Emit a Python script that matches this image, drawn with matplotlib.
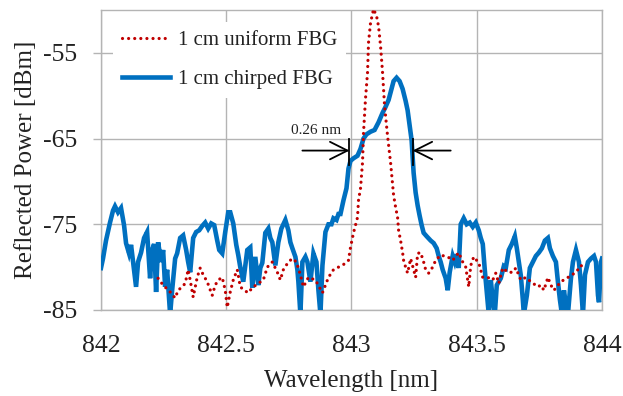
import numpy as np
import matplotlib
matplotlib.use("Agg")
import matplotlib.pyplot as plt

plt.rcParams["font.family"] = ["Liberation Serif", "DejaVu Serif"]
plt.rcParams["axes.unicode_minus"] = False

# 1 cm chirped FBG (blue, solid)
chirped_wl = [
    842.000, 842.008, 842.020, 842.036, 842.048, 842.056, 842.068, 842.080, 842.092, 842.100,
    842.112, 842.120, 842.128, 842.140, 842.148, 842.160, 842.172, 842.184, 842.192, 842.196,
    842.204, 842.212, 842.220, 842.228, 842.240, 842.248, 842.256, 842.264, 842.276, 842.284,
    842.296, 842.304, 842.316, 842.328, 842.340, 842.348, 842.356, 842.368, 842.380, 842.392,
    842.404, 842.416, 842.428, 842.440, 842.452, 842.464, 842.472, 842.484, 842.496, 842.508,
    842.516, 842.528, 842.540, 842.548, 842.556, 842.568, 842.576, 842.584, 842.596, 842.604,
    842.616, 842.628, 842.636, 842.644, 842.656, 842.668, 842.676, 842.684, 842.696, 842.708,
    842.720, 842.736, 842.748, 842.756, 842.764, 842.776, 842.784, 842.788, 842.796, 842.804,
    842.816, 842.824, 842.836, 842.848, 842.860, 842.868, 842.876, 842.884, 842.896, 842.908,
    842.920, 842.928, 842.940, 842.948, 842.956, 842.968, 842.980, 842.988, 842.996, 843.008,
    843.024, 843.036, 843.048, 843.060, 843.076, 843.092, 843.108, 843.124, 843.136, 843.148,
    843.160, 843.168, 843.180, 843.192, 843.204, 843.216, 843.224, 843.232, 843.240, 843.244,
    843.248, 843.256, 843.264, 843.272, 843.280, 843.288, 843.300, 843.316, 843.328, 843.340,
    843.348, 843.356, 843.364, 843.376, 843.384, 843.392, 843.404, 843.412, 843.420, 843.428,
    843.436, 843.448, 843.460, 843.472, 843.484, 843.496, 843.508, 843.516, 843.524, 843.532,
    843.540, 843.548, 843.556, 843.564, 843.572, 843.580, 843.596, 843.608, 843.616, 843.628,
    843.640, 843.652, 843.660, 843.668, 843.676, 843.684, 843.688, 843.700, 843.712, 843.724,
    843.736, 843.748, 843.760, 843.772, 843.784, 843.792, 843.804, 843.816, 843.824, 843.832,
    843.840, 843.848, 843.856, 843.864, 843.876, 843.884, 843.896, 843.908, 843.916, 843.924,
    843.932, 843.944, 843.956, 843.968, 843.976, 843.984, 843.988, 843.996, 844.000,
]
chirped_dbm = [
    -80.1, -79.0, -76.9, -74.8, -73.4, -72.9, -73.6, -73.1, -75.1, -77.2,
    -78.4, -77.4, -79.4, -82.3, -79.4, -78.3, -76.6, -75.9, -79.4, -81.3,
    -78.0, -77.3, -82.9, -77.1, -79.4, -78.0, -82.3, -80.3, -85.5, -82.7,
    -79.0, -78.4, -76.6, -76.3, -78.0, -79.4, -80.6, -76.6, -75.9, -75.7,
    -75.2, -74.8, -75.5, -74.9, -75.1, -76.9, -78.0, -78.4, -75.9, -73.6,
    -73.6, -74.9, -77.4, -78.6, -80.0, -81.7, -79.8, -78.0, -77.7, -82.4,
    -78.8, -82.1, -80.1, -79.5, -76.0, -75.5, -76.6, -77.1, -79.8, -77.1,
    -75.5, -74.5, -75.7, -77.1, -77.8, -78.8, -80.3, -81.7, -85.5, -79.4,
    -78.8, -79.4, -81.7, -78.4, -79.4, -82.7, -85.5, -79.8, -75.9, -75.0,
    -75.0, -74.3, -74.5, -73.8, -73.8, -72.2, -70.8, -68.5, -67.6, -67.3,
    -67.0, -66.2, -65.0, -64.5, -64.2, -64.0, -63.1, -62.0, -61.3, -60.5,
    -59.2, -58.3, -57.9, -58.3, -59.2, -60.6, -61.7, -63.5, -65.2, -67.0,
    -69.0, -71.3, -72.8, -74.0, -75.1, -76.0, -76.4, -76.9, -77.2, -77.8,
    -78.7, -79.4, -80.3, -81.3, -82.7, -80.6, -78.7, -79.4, -78.5, -80.1,
    -75.0, -74.3, -75.0, -74.8, -75.3, -74.8, -75.7, -76.6, -77.3, -80.3,
    -82.9, -85.5, -81.5, -83.8, -85.5, -82.1, -81.3, -79.9, -80.1, -78.0,
    -77.3, -76.4, -77.8, -79.4, -81.0, -83.8, -85.5, -83.3, -80.1, -79.4,
    -78.7, -78.3, -77.8, -76.9, -76.6, -77.8, -78.7, -79.4, -81.7, -83.8,
    -85.5, -82.7, -84.4, -85.5, -81.3, -79.4, -78.0, -79.4, -82.1, -85.5,
    -80.9, -79.4, -79.0, -78.7, -79.4, -83.3, -84.1, -79.4, -79.0,
]

# 1 cm uniform FBG (red, dotted)
uniform_wl = [
    842.228, 842.248, 842.276, 842.296, 842.308, 842.324, 842.336, 842.348, 842.356, 842.368,
    842.384, 842.396, 842.408, 842.424, 842.444, 842.456, 842.468, 842.484, 842.496, 842.504,
    842.516, 842.528, 842.544, 842.556, 842.572, 842.588, 842.604, 842.628, 842.648, 842.664,
    842.684, 842.704, 842.716, 842.728, 842.748, 842.764, 842.780, 842.796, 842.808, 842.828,
    842.856, 842.884, 842.896, 842.908, 842.928, 842.948, 842.968, 842.988, 842.996, 843.008,
    843.024, 843.028, 843.036, 843.044, 843.048, 843.056, 843.064, 843.068, 843.076, 843.088,
    843.100, 843.108, 843.116, 843.124, 843.132, 843.144, 843.156, 843.168, 843.176, 843.184,
    843.188, 843.196, 843.204, 843.208, 843.216, 843.224, 843.236, 843.248, 843.256, 843.264,
    843.276, 843.288, 843.296, 843.308, 843.324, 843.336, 843.356, 843.384, 843.404, 843.428,
    843.444, 843.456, 843.468, 843.476, 843.488, 843.508, 843.524, 843.544, 843.564, 843.576,
    843.588, 843.604, 843.624, 843.644, 843.656, 843.676, 843.696, 843.716, 843.744, 843.756,
    843.768, 843.784, 843.796, 843.808, 843.836, 843.864, 843.896, 843.916, 843.936,
]
uniform_dbm = [
    -81.3, -82.1, -82.9, -83.6, -82.7, -82.3, -81.9, -80.3, -81.5, -83.5,
    -81.2, -80.1, -80.9, -81.7, -83.3, -82.1, -81.5, -81.2, -82.7, -84.7,
    -82.9, -81.5, -80.3, -82.3, -82.7, -83.0, -82.4, -81.9, -81.5, -80.0,
    -79.4, -80.6, -81.5, -80.3, -79.4, -79.0, -79.4, -80.9, -82.3, -81.2,
    -81.5, -83.0, -82.1, -81.2, -80.3, -80.0, -79.7, -79.2, -77.7, -76.0,
    -74.2, -72.2, -70.8, -67.8, -64.3, -60.3, -57.3, -53.8, -51.5, -49.9,
    -50.7, -51.9, -54.2, -57.3, -61.2, -64.7, -67.8, -71.6, -73.0, -74.2,
    -75.7, -76.9, -78.3, -79.2, -80.0, -80.7, -79.0, -80.3, -81.2, -78.4,
    -78.3, -79.4, -80.3, -80.7, -80.0, -79.2, -78.6, -78.8, -79.2, -78.3,
    -79.4, -80.0, -82.3, -79.8, -78.8, -79.5, -81.2, -81.2, -81.5, -80.7,
    -81.9, -80.1, -80.6, -80.6, -80.1, -81.5, -81.2, -81.7, -82.3, -82.1,
    -82.7, -81.2, -82.1, -82.7, -81.7, -81.2, -80.6, -79.8, -80.3,
]

x_ticks = [842, 842.5, 843, 843.5, 844]
x_labels = ["842", "842.5", "843", "843.5", "844"]
y_ticks = [-85, -75, -65, -55]

# bandwidth marker
fwhm_left, fwhm_right = 842.992, 843.244
fwhm_y = -66.4
fwhm_text = "0.26 nm"

blue = "#0070C0"
red = "#C00000"
grid_c = "#B4B4B4"

fig = plt.figure(figsize=(6.23, 3.96), dpi=100)
ax = fig.add_axes([0.1621, 0.2172, 0.8042, 0.7575])

ax.plot(chirped_wl, chirped_dbm, color=blue, lw=3.3, label="1 cm chirped FBG", zorder=3,
        solid_joinstyle="miter")
ax.plot(uniform_wl, uniform_dbm, color=red, lw=2.3, linestyle=(0, (0.01, 1.9)),
        dash_capstyle="round", label="1 cm uniform FBG", zorder=4)

ax.set_xlim(842, 844)
ax.set_ylim(-85, -50)
ax.set_xticks(x_ticks)
ax.set_xticklabels(x_labels)
ax.set_yticks(y_ticks)
ax.grid(True, color=grid_c, lw=1.0)
ax.set_axisbelow(True)
for s in ax.spines.values():
    s.set_color(grid_c)
    s.set_linewidth(1.0)

ax.tick_params(axis="x", length=0, pad=18, labelsize=18.5, colors="#222222")
ax.tick_params(axis="y", length=6, width=1.0, color=grid_c, pad=11, labelsize=18.5,
               labelcolor="#222222")

ax.set_xlabel("Wavelength [nm]", fontsize=18, color="#222222")
ax.set_ylabel("Reflected Power [dBm]", fontsize=18, color="#222222")
ax.xaxis.set_label_coords(0.5, -0.2)
ax.yaxis.set_label_coords(-0.128, 0.5)

# arrows marking the bandwidth
arrow_kw = dict(arrowstyle="->,head_length=0.7,head_width=0.35", color="black", lw=1.3,
                shrinkA=0, shrinkB=0, mutation_scale=18)
ax.annotate("", xy=(fwhm_left, fwhm_y), xytext=(842.804, fwhm_y), arrowprops=arrow_kw, zorder=5)
ax.annotate("", xy=(fwhm_right, fwhm_y), xytext=(843.396, fwhm_y), arrowprops=arrow_kw, zorder=5)
ax.plot([fwhm_left, fwhm_left], [-65.0, -68.1], color="black", lw=1.3, zorder=5)
ax.plot([fwhm_right, fwhm_right], [-65.0, -68.1], color="black", lw=1.3, zorder=5)
ax.text(842.858, -64.0, fwhm_text, fontsize=11, ha="center", va="center", color="#222222")

handles, labels = ax.get_legend_handles_labels()
leg = ax.legend(handles[::-1], labels[::-1], loc="upper left", bbox_to_anchor=(0.004, 0.995),
                fontsize=15, handlelength=2.3, handletextpad=0.4, labelspacing=0.95,
                frameon=True, fancybox=False, borderpad=0.4)
leg.get_frame().set_facecolor("white")
leg.get_frame().set_edgecolor("none")
leg.get_frame().set_alpha(1.0)
for t in leg.get_texts():
    t.set_color("#222222")

fig.savefig("out.png", dpi=100)
